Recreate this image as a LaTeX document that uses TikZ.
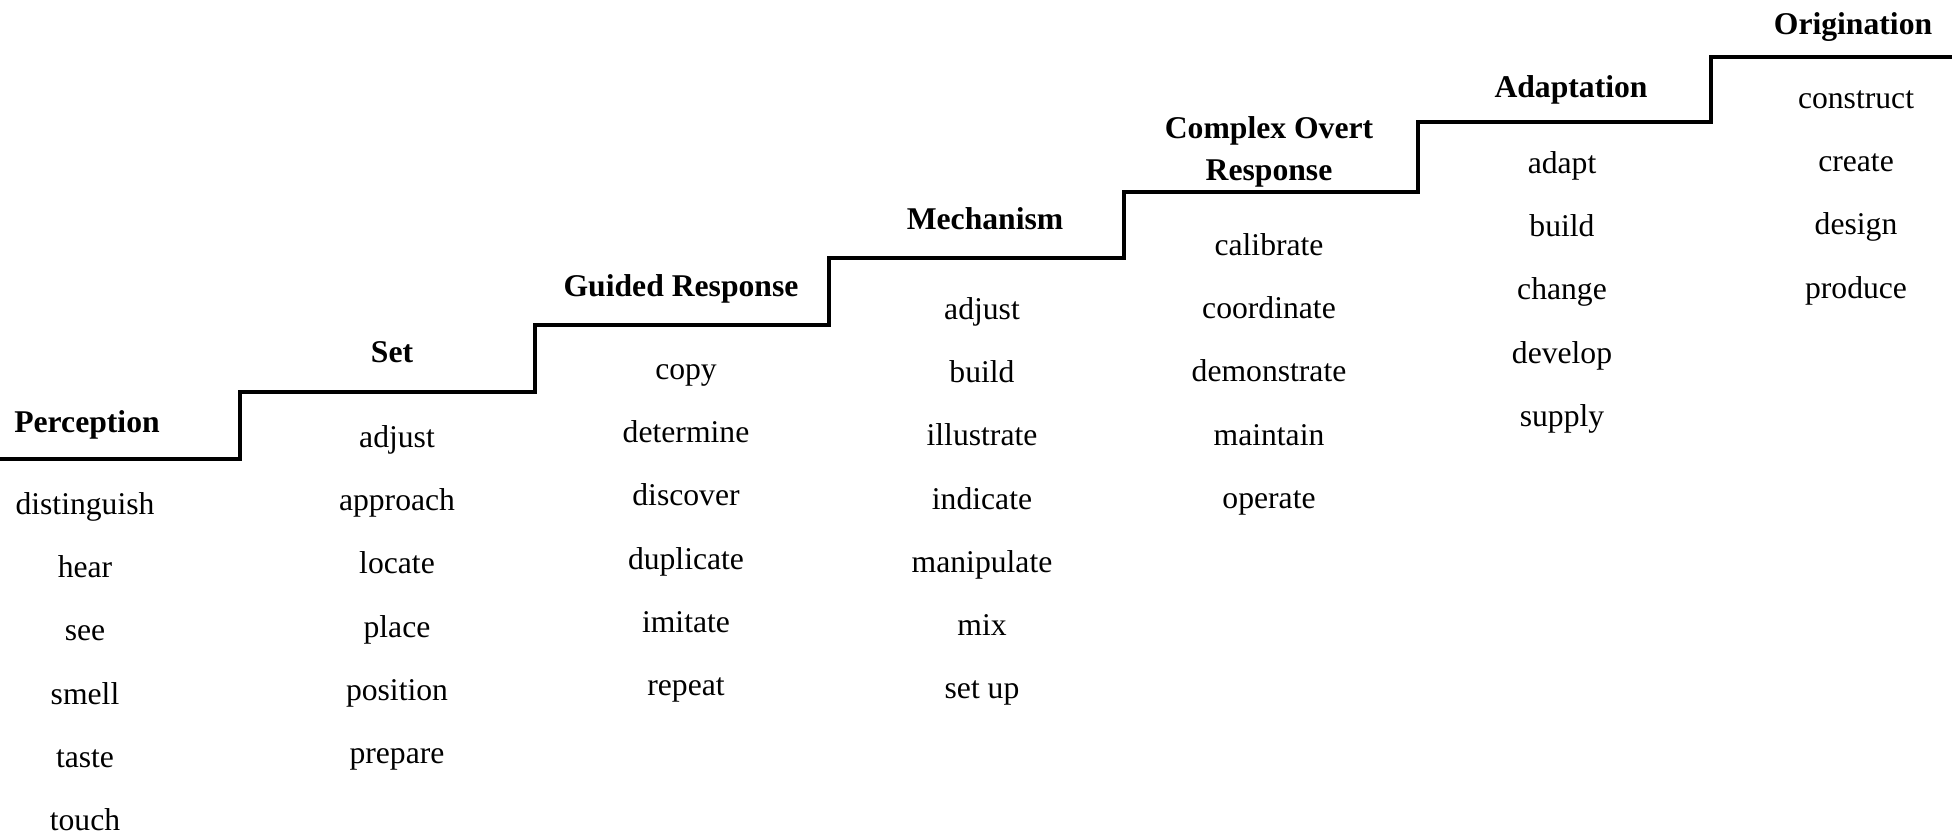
\documentclass[tikz,border=0pt]{standalone}
\usepackage{fontspec}
\setmainfont{Liberation Serif}

\begin{document}
\begin{tikzpicture}[
	x=0.01cm, y=-0.01cm,
	head/.style={font=\fontsize{9}{12}\selectfont\bfseries, align=center, inner sep=0pt, text height=1.5ex, text depth=.25ex},
	headtwo/.style={font=\fontsize{9}{12}\selectfont\bfseries, align=center, inner sep=0pt},
	word/.style={font=\fontsize{9}{10.5}\selectfont, inner sep=0pt, text height=1.5ex, text depth=.25ex},
	stair/.style={line width=0.9pt, line join=miter},
]
	\useasboundingbox (0,0) rectangle (1952,835);

	% Staircase
	\draw[stair] (0,459) -- (240,459) -- (240,392) -- (535,392) -- (535,325)
		-- (829,325) -- (829,258) -- (1124,258) -- (1124,192) -- (1418,192)
		-- (1418,122) -- (1711,122) -- (1711,57) -- (1952,57);

	% Perception
	\node[head] (perc) at (87,422) {Perception};
	\foreach \w [count=\i] in {distinguish, hear, see, smell, taste, touch}
		\node[word] (perc-\i) at (85,{504+63.3*(\i-1)}) {\w};

	% Set
	\node[head] (set) at (392,352) {Set};
	\foreach \w [count=\i] in {adjust, approach, locate, place, position, prepare}
		\node[word] (set-\i) at (397,{437+63.3*(\i-1)}) {\w};

	% Guided Response
	\node[head] (guid) at (681,286) {Guided Response};
	\foreach \w [count=\i] in {copy, determine, discover, duplicate, imitate, repeat}
		\node[word] (guid-\i) at (686,{369+63.3*(\i-1)}) {\w};

	% Mechanism
	\node[head] (mech) at (985,219) {Mechanism};
	\foreach \w [count=\i] in {adjust, build, illustrate, indicate, manipulate, mix, set up}
		\node[word] (mech-\i) at (982,{309+63.3*(\i-1)}) {\w};

	% Complex Overt Response
	\node[headtwo] (comp) at (1269,152) {Complex Overt\\Response};
	\foreach \w [count=\i] in {calibrate, coordinate, demonstrate, maintain, operate}
		\node[word] (comp-\i) at (1269,{245+63.3*(\i-1)}) {\w};

	% Adaptation
	\node[head] (adap) at (1571,87) {Adaptation};
	\foreach \w [count=\i] in {adapt, build, change, develop, supply}
		\node[word] (adap-\i) at (1562,{163+63.3*(\i-1)}) {\w};

	% Origination
	\node[head] (orig) at (1853,24) {Origination};
	\foreach \w [count=\i] in {construct, create, design, produce}
		\node[word] (orig-\i) at (1856,{98+63.3*(\i-1)}) {\w};
\end{tikzpicture}
\end{document}
